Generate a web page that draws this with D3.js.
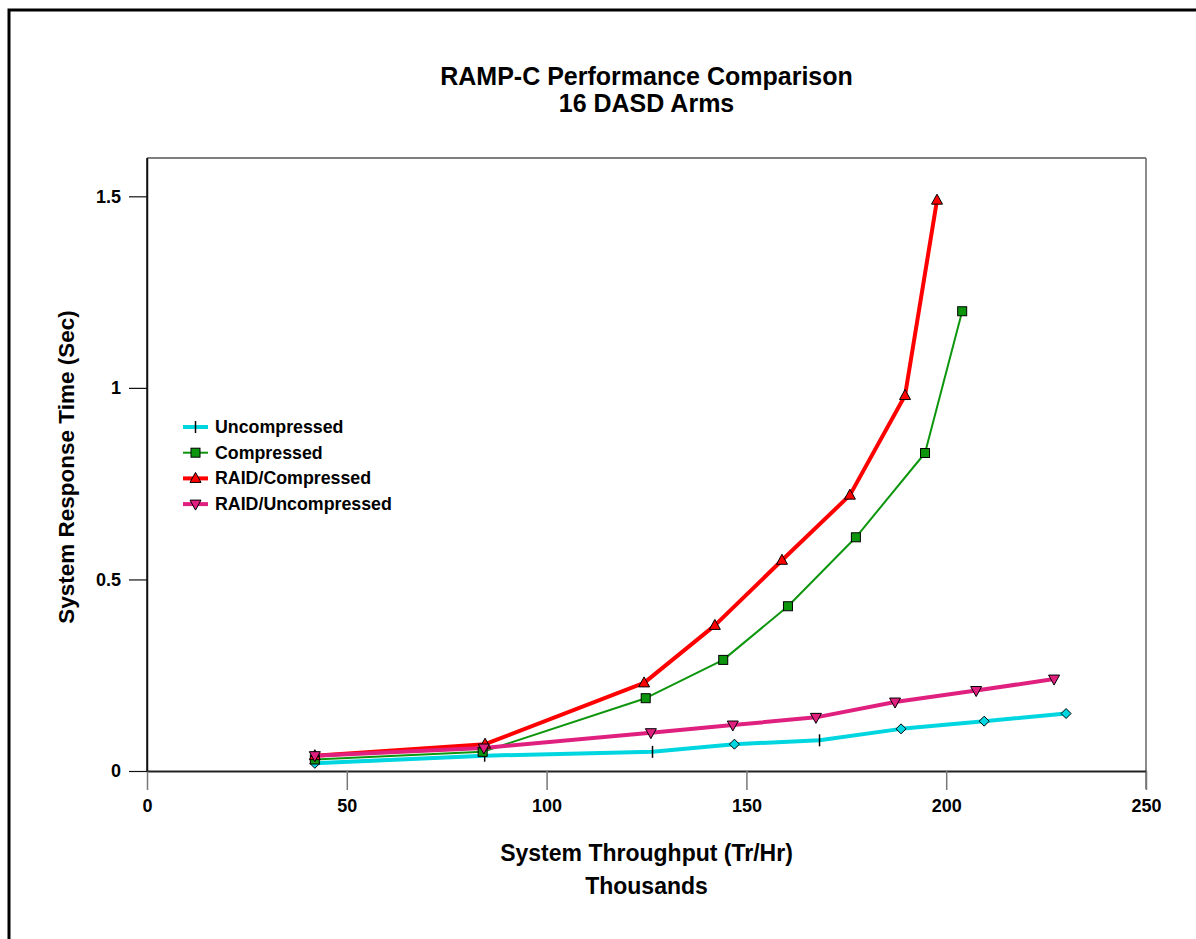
<!DOCTYPE html>
<html><head><meta charset="utf-8">
<script src="https://cdn.jsdelivr.net/npm/d3@7"></script>
<style>body{margin:0;background:#fff}svg{display:block}svg text{font-family:"Liberation Sans",Arial,sans-serif}</style>
</head><body><svg id="c" width="1196" height="939" font-family="Liberation Sans"></svg>
<script>
const xTicks = [0, 50, 100, 150, 200, 250];
const yTicks = [0, 0.5, 1, 1.5];
const yTickLabels = ["0", "0.5", "1", "1.5"];
const seriesNames = ["Uncompressed", "Compressed", "RAID/Compressed", "RAID/Uncompressed"];
const uncompX = [42, 84.5, 126.5, 147, 168.3, 188.7, 209.5, 230];
const uncompY = [0.02, 0.04, 0.05, 0.07, 0.08, 0.11, 0.13, 0.15];
const compX = [42, 84, 124.8, 144.2, 160.4, 177.4, 194.7, 204];
const compY = [0.03, 0.05, 0.19, 0.29, 0.43, 0.61, 0.83, 1.2];
const raidCompX = [42, 84.6, 124.4, 142.1, 158.9, 175.9, 189.7, 197.7];
const raidCompY = [0.04, 0.07, 0.23, 0.38, 0.55, 0.72, 0.98, 1.49];
const raidUncompX = [42, 84.3, 126.1, 146.6, 167.4, 187.2, 207.5, 227];
const raidUncompY = [0.04, 0.06, 0.10, 0.12, 0.14, 0.18, 0.21, 0.24];
const uncompMarkers = ["diamond", "tick", "tick", "diamond", "tick", "diamond", "diamond", "diamond"];

const svg = d3.select("#c");
const FONT = "Liberation Sans, Arial, sans-serif";
const L = 147, R = 1146, T = 158, B = 771;
const x = d3.scaleLinear().domain([0, 250]).range([L, R]);
const y = d3.scaleLinear().domain([0, 1.6]).range([B, T]);

svg.append("rect").attr("x", 9).attr("y", 10).attr("width", 1400).attr("height", 1200)
  .attr("fill", "none").attr("stroke", "#000").attr("stroke-width", 3);

svg.append("line").attr("x1", L).attr("x2", R).attr("y1", T).attr("y2", T).attr("stroke", "#555").attr("stroke-width", 1.5);
svg.append("line").attr("x1", R).attr("x2", R).attr("y1", T).attr("y2", B + 18).attr("stroke", "#666").attr("stroke-width", 1.5);

const xAxis = d3.axisBottom(x).tickValues(xTicks).tickSize(19).tickSizeOuter(0).tickPadding(9);
const gx = svg.append("g").attr("transform", `translate(0,${B})`).call(xAxis).attr("font-family", FONT);
gx.select(".domain").attr("stroke", "#222").attr("stroke-width", 2);
gx.selectAll(".tick line").attr("stroke", "#777").attr("stroke-width", 1.5);
gx.selectAll(".tick text").attr("font-size", 18).attr("font-weight", "bold").attr("fill", "#000");

const yAxis = d3.axisLeft(y).tickValues(yTicks).tickFormat((d, i) => yTickLabels[i]).tickSize(18).tickSizeOuter(0).tickPadding(8);
const gy = svg.append("g").attr("transform", `translate(${L},0)`).call(yAxis).attr("font-family", FONT);
gy.select(".domain").attr("stroke", "#111").attr("stroke-width", 1.5);
gy.selectAll(".tick line").attr("stroke", "#111").attr("stroke-width", 1.2);
gy.selectAll(".tick text").attr("font-size", 18).attr("font-weight", "bold").attr("fill", "#000");
svg.append("line").attr("x1", L).attr("x2", L).attr("y1", T).attr("y2", B).attr("stroke", "#111").attr("stroke-width", 1.5);

const title = svg.append("text").attr("x", (L + R) / 2).attr("text-anchor", "middle")
  .attr("font-size", 25).attr("font-weight", "bold").attr("font-family", FONT);
title.append("tspan").attr("x", (L + R) / 2).attr("y", 85).text("RAMP-C Performance Comparison");
title.append("tspan").attr("x", (L + R) / 2).attr("y", 112).text("16 DASD Arms");
svg.append("text").attr("x", (L + R) / 2).attr("y", 861).attr("text-anchor", "middle").attr("font-family", FONT)
  .attr("font-size", 23).attr("font-weight", "bold").text("System Throughput (Tr/Hr)");
svg.append("text").attr("x", (L + R) / 2).attr("y", 894).attr("text-anchor", "middle").attr("font-family", FONT)
  .attr("font-size", 23).attr("font-weight", "bold").text("Thousands");
svg.append("text").attr("transform", `translate(74,467) rotate(-90)`).attr("text-anchor", "middle").attr("font-family", FONT)
  .attr("font-size", 22.5).attr("font-weight", "bold").text("System Response Time (Sec)");

const series = [
  {name: seriesNames[0], xs: uncompX, ys: uncompY, color: "#00d6e0", width: 4, marker: "tick"},
  {name: seriesNames[1], xs: compX, ys: compY, color: "#0d960d", width: 2, marker: "square"},
  {name: seriesNames[2], xs: raidCompX, ys: raidCompY, color: "#ff0000", width: 4, marker: "triUp"},
  {name: seriesNames[3], xs: raidUncompX, ys: raidUncompY, color: "#e0207f", width: 4, marker: "triDown"}
];

function drawMarker(g, kind, cx, cy, color) {
  if (kind === "square") {
    g.append("rect").attr("x", cx - 4.5).attr("y", cy - 4.5).attr("width", 9).attr("height", 9)
      .attr("fill", color).attr("stroke", "#000").attr("stroke-width", 1);
  } else if (kind === "triUp") {
    g.append("path").attr("d", `M${cx},${cy - 6}L${cx + 5.5},${cy + 4}L${cx - 5.5},${cy + 4}Z`)
      .attr("fill", color).attr("stroke", "#000").attr("stroke-width", 1);
  } else if (kind === "triDown") {
    g.append("path").attr("d", `M${cx},${cy + 6}L${cx + 5.5},${cy - 4}L${cx - 5.5},${cy - 4}Z`)
      .attr("fill", color).attr("stroke", "#000").attr("stroke-width", 1);
  } else if (kind === "diamond") {
    g.append("path").attr("d", `M${cx},${cy - 5}L${cx + 5},${cy}L${cx},${cy + 5}L${cx - 5},${cy}Z`)
      .attr("fill", color).attr("stroke", "#000").attr("stroke-width", 1);
  } else if (kind === "tick") {
    g.append("line").attr("x1", cx).attr("x2", cx).attr("y1", cy - 6).attr("y2", cy + 6)
      .attr("stroke", "#000").attr("stroke-width", 1.5);
  }
}

const line = d3.line().x(d => x(d[0])).y(d => y(d[1]));
series.forEach(s => {
  const pts = s.xs.map((v, i) => [v, s.ys[i]]);
  svg.append("path").datum(pts).attr("d", line).attr("fill", "none")
    .attr("stroke", s.color).attr("stroke-width", s.width).attr("stroke-linejoin", "round");
});
series.forEach((s, si) => {
  const g = svg.append("g");
  s.xs.forEach((v, i) => {
    const kind = si === 0 ? uncompMarkers[i] : s.marker;
    drawMarker(g, kind, x(v), y(s.ys[i]), s.color);
  });
});

const legY0 = 427, legDy = 25.7;
series.forEach((s, i) => {
  const ly = legY0 + i * legDy;
  svg.append("line").attr("x1", 183).attr("x2", 208).attr("y1", ly).attr("y2", ly)
    .attr("stroke", s.color).attr("stroke-width", s.width);
  drawMarker(svg.append("g"), s.marker, 195.5, ly, s.color);
  svg.append("text").attr("x", 215).attr("y", ly + 6).attr("font-family", FONT)
    .attr("font-size", 17.8).attr("font-weight", "bold").text(s.name);
});
</script></body></html>
